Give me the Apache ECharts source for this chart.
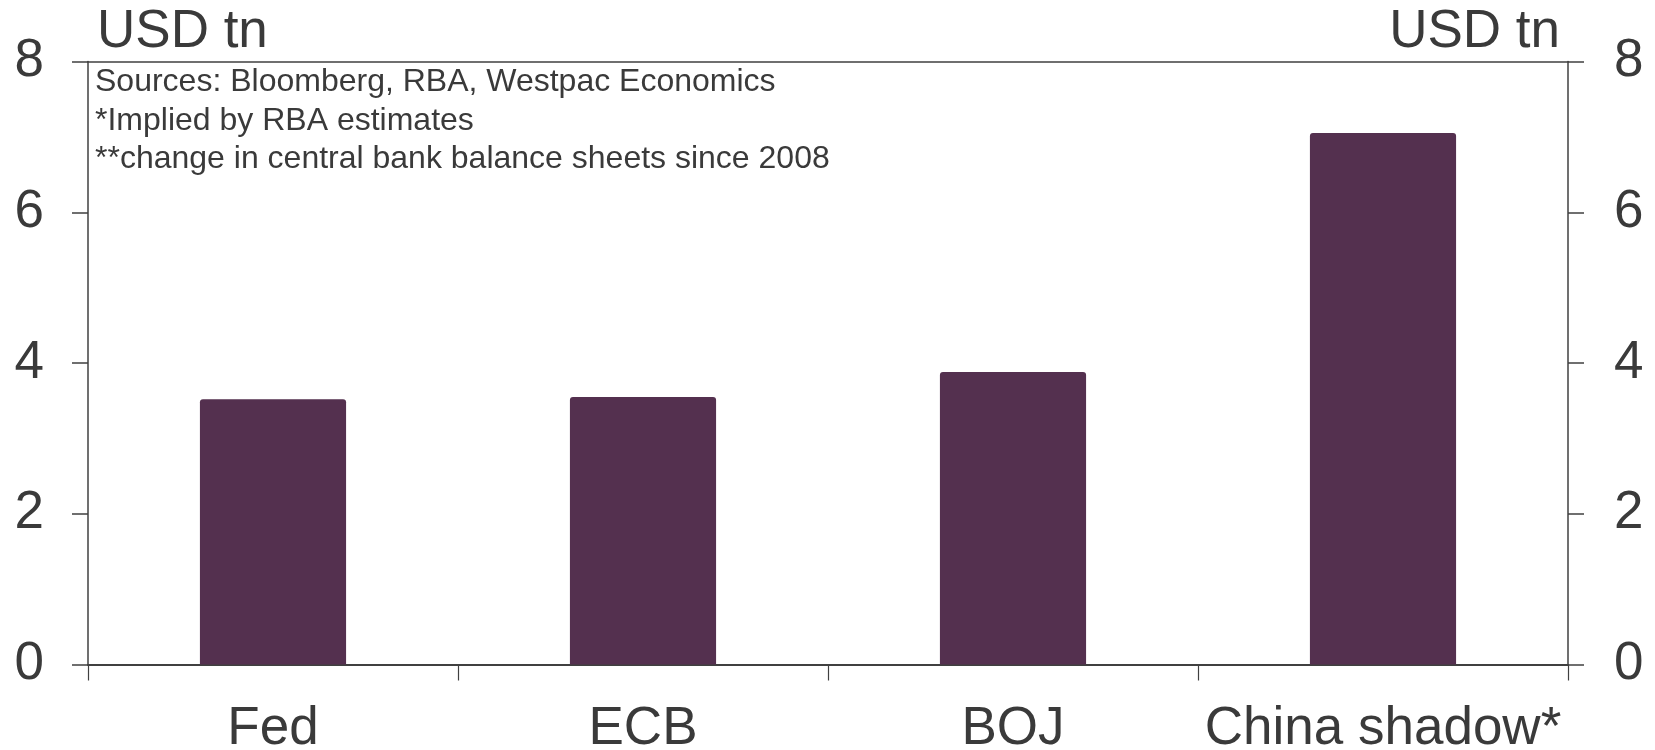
<!DOCTYPE html>
<html>
<head>
<meta charset="utf-8">
<script src="https://cdn.jsdelivr.net/npm/echarts@6/dist/echarts.min.js"></script>
<style>
  html, body { margin: 0; padding: 0; background: #ffffff; }
  #chart { width: 1655px; height: 750px; }
</style>
</head>
<body>
<div id="chart"></div>
<script>
// Central bank balance sheet expansion vs China shadow banking, USD tn
const categories = ['Fed', 'ECB', 'BOJ', 'China shadow*'];
const values = [3.52, 3.55, 3.88, 7.05];
const yTicks = { min: 0, max: 8, interval: 2 };
const unitLabel = 'USD tn';
const notes = [
  'Sources: Bloomberg, RBA, Westpac Economics',
  '*Implied by RBA estimates',
  '**change in central bank balance sheets since 2008'
];

const FONT = '"Liberation Sans", Arial, sans-serif';
const INK = '#3a3a3a';
const AXIS = '#404040';
const BIG = 53;

const chart = echarts.init(document.getElementById('chart'), null, { renderer: 'canvas' });

function valueAxis(position, margin) {
  return {
    type: 'value',
    position: position,
    min: yTicks.min,
    max: yTicks.max,
    interval: yTicks.interval,
    axisLine: { show: true, lineStyle: { color: AXIS, width: 1.5 } },
    axisTick: { show: true, inside: false, length: 16, lineStyle: { color: AXIS, width: 1.5 } },
    axisLabel: { show: true, margin: margin, fontSize: BIG, color: INK, fontFamily: FONT },
    splitLine: { show: false }
  };
}

chart.setOption({
  animation: false,
  backgroundColor: '#ffffff',
  grid: {
    left: 88, right: 87, top: 61.5, bottom: 85.5,
    containLabel: false,
    outerBoundsMode: 'none'
  },
  xAxis: [
    {
      type: 'category',
      data: categories,
      position: 'bottom',
      boundaryGap: true,
      axisLine: { show: true, onZero: false, lineStyle: { color: AXIS, width: 2 } },
      axisTick: { show: true, alignWithLabel: false, length: 16, lineStyle: { color: AXIS, width: 1.2 } },
      axisLabel: { show: true, margin: 38, fontSize: BIG, color: INK, fontFamily: FONT, interval: 0 },
      splitLine: { show: false }
    },
    {
      type: 'category',
      data: categories,
      position: 'top',
      axisLine: { show: true, onZero: false, lineStyle: { color: AXIS, width: 1.5 } },
      axisTick: { show: false },
      axisLabel: { show: false },
      splitLine: { show: false }
    }
  ],
  yAxis: [valueAxis('left', 44), valueAxis('right', 46)],
  graphic: [
    {
      type: 'text', left: 97, top: 6,
      style: { text: unitLabel, fontSize: BIG, fill: INK, fontFamily: FONT }
    },
    {
      type: 'text', right: 95, top: 6,
      style: { text: unitLabel, fontSize: BIG, fill: INK, fontFamily: FONT }
    },
    {
      type: 'text', left: 95, top: 63,
      style: { text: notes.join('\n'), fontSize: 32, lineHeight: 38.5, fill: INK, fontFamily: FONT }
    }
  ],
  series: [
    {
      type: 'bar',
      data: values,
      xAxisIndex: 0,
      yAxisIndex: 0,
      barWidth: '39.5%',
      itemStyle: { color: '#54304f', borderRadius: [3, 3, 0, 0] },
      z: 1
    }
  ]
});
</script>
</body>
</html>
